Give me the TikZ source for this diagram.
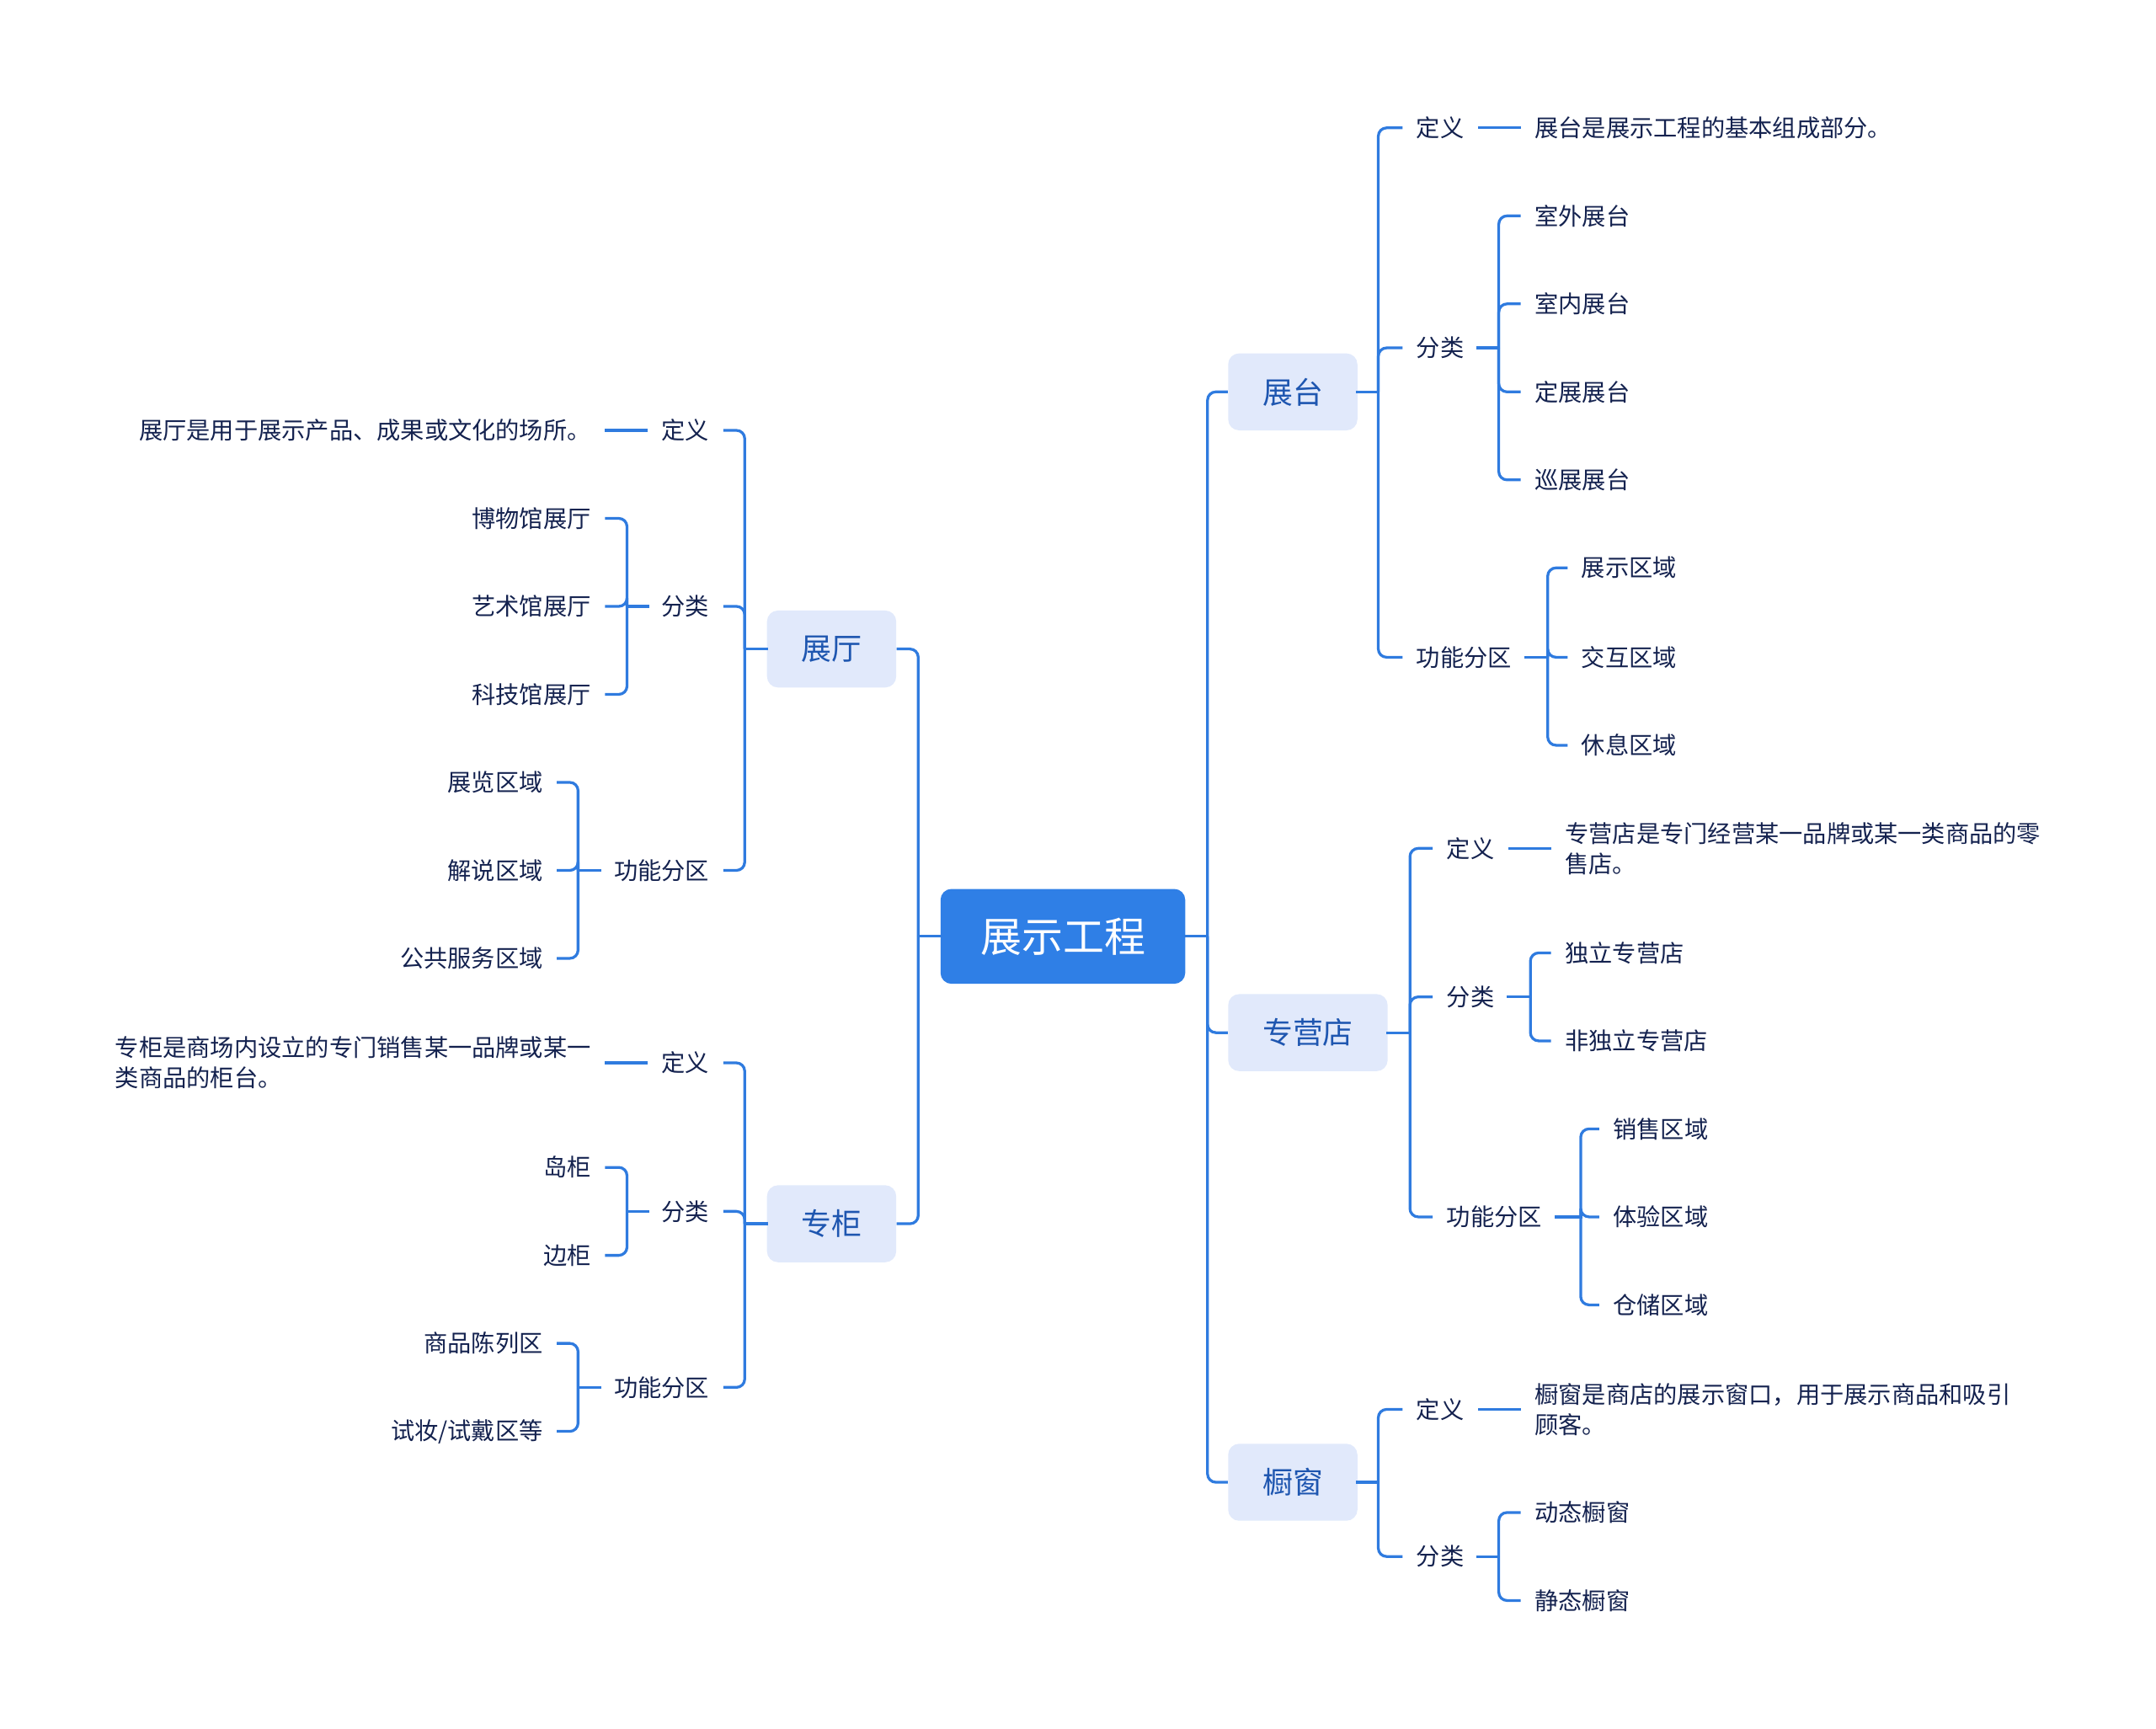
\documentclass[tikz,border=0pt]{standalone}
\usepackage{fontspec}
\setmainfont{Noto Sans CJK SC}
\usetikzlibrary{shapes,arrows}

\definecolor{rootblue}{HTML}{2F7FE6}
\definecolor{linkblue}{HTML}{2F7BDF}
\definecolor{topicbg}{HTML}{E1E9FB}
\definecolor{topictext}{HTML}{1E56B0}
\definecolor{leaftext}{HTML}{14224F}

\begin{document}
\begin{tikzpicture}[x=1pt, y=-1pt,
  root/.style={fill=rootblue, text=white, rounded corners=8pt, minimum width=178pt, minimum height=69pt, font=\fontsize{30}{36}\selectfont},
  topic/.style={fill=topicbg, text=topictext, rounded corners=8pt, minimum height=56pt, inner xsep=25pt, font=\fontsize{22}{26}\selectfont},
  leaf/.style={text=leaftext, inner xsep=10pt, inner ysep=4pt, align=left, font=\fontsize{17.3}{22}\selectfont},
  link/.style={draw=linkblue, line width=2pt, rounded corners=6pt},
  stub/.style={draw=linkblue, line width=2pt, line cap=rect}]

\useasboundingbox (0,0) rectangle (1568,1257);

% centre
\node[root] (main) at (773,681) {展示工程};

\node[topic, anchor=west] (tai) at (893,285) {展台};
\node[topic, anchor=west] (dian) at (893,751) {专营店};
\node[topic, anchor=west] (chuang) at (893,1078) {橱窗};
\node[topic, anchor=east] (ting) at (652,472) {展厅};
\node[topic, anchor=east] (gui) at (652,890) {专柜};

\draw[stub] (main.east) -- ++(16,0) coordinate (main-r);
\draw[link] (main-r) |- (tai.west);
\draw[link] (main-r) |- (dian.west);
\draw[link] (main-r) |- (chuang.west);
\draw[stub] (main.west) -- ++(-16,0) coordinate (main-l);
\draw[link] (main-l) |- (ting.east);
\draw[link] (main-l) |- (gui.east);

% zhantai
\node[leaf, anchor=west] (tai-def) at (1020,93) {定义};
\node[leaf, anchor=west] (tai-fl) at (1020,253) {分类};
\node[leaf, anchor=west] (tai-gn) at (1020,478) {功能分区};
\node[leaf, anchor=west] (tai-def-t) at (1106,93) {展台是展示工程的基本组成部分。};
\node[leaf, anchor=west] (tai-fl-1) at (1106,157) {室外展台};
\node[leaf, anchor=west] (tai-fl-2) at (1106,221) {室内展台};
\node[leaf, anchor=west] (tai-fl-3) at (1106,285) {定展展台};
\node[leaf, anchor=west] (tai-fl-4) at (1106,349) {巡展展台};
\node[leaf, anchor=west] (tai-gn-1) at (1140,413) {展示区域};
\node[leaf, anchor=west] (tai-gn-2) at (1140,478) {交互区域};
\node[leaf, anchor=west] (tai-gn-3) at (1140,542) {休息区域};

\draw[stub] (tai.east) -- ++(15,0) coordinate (tai-j);
\draw[link] (tai-j) |- (tai-def.west);
\draw[link] (tai-j) |- (tai-fl.west);
\draw[link] (tai-j) |- (tai-gn.west);
\draw[link] (tai-def.east) -- (tai-def-t.west);
\draw[stub] (tai-fl.east) -- ++(15,0) coordinate (tai-fl-j);
\draw[link] (tai-fl-j) |- (tai-fl-1.west);
\draw[link] (tai-fl-j) |- (tai-fl-2.west);
\draw[link] (tai-fl-j) |- (tai-fl-3.west);
\draw[link] (tai-fl-j) |- (tai-fl-4.west);
\draw[stub] (tai-gn.east) -- ++(16,0) coordinate (tai-gn-j);
\draw[link] (tai-gn-j) |- (tai-gn-1.west);
\draw[link] (tai-gn-j) |- (tai-gn-2.west);
\draw[link] (tai-gn-j) |- (tai-gn-3.west);

% zhuanyingdian
\node[leaf, anchor=west] (dian-def) at (1042,617) {定义};
\node[leaf, anchor=west] (dian-fl) at (1042,725) {分类};
\node[leaf, anchor=west] (dian-gn) at (1042,885) {功能分区};
\node[leaf, anchor=west] (dian-def-t) at (1128,617) {专营店是专门经营某一品牌或某一类商品的零\\售店。};
\node[leaf, anchor=west] (dian-fl-1) at (1128,693) {独立专营店};
\node[leaf, anchor=west] (dian-fl-2) at (1128,757) {非独立专营店};
\node[leaf, anchor=west] (dian-gn-1) at (1163,821) {销售区域};
\node[leaf, anchor=west] (dian-gn-2) at (1163,885) {体验区域};
\node[leaf, anchor=west] (dian-gn-3) at (1163,949) {仓储区域};

\draw[stub] (dian.east) -- ++(16,0) coordinate (dian-j);
\draw[link] (dian-j) |- (dian-def.west);
\draw[link] (dian-j) |- (dian-fl.west);
\draw[link] (dian-j) |- (dian-gn.west);
\draw[link] (dian-def.east) -- (dian-def-t.west);
\draw[stub] (dian-fl.east) -- ++(16,0) coordinate (dian-fl-j);
\draw[link] (dian-fl-j) |- (dian-fl-1.west);
\draw[link] (dian-fl-j) |- (dian-fl-2.west);
\draw[stub] (dian-gn.east) -- ++(18,0) coordinate (dian-gn-j);
\draw[link] (dian-gn-j) |- (dian-gn-1.west);
\draw[link] (dian-gn-j) |- (dian-gn-2.west);
\draw[link] (dian-gn-j) |- (dian-gn-3.west);

% chuchuang
\node[leaf, anchor=west] (chuang-def) at (1020,1025) {定义};
\node[leaf, anchor=west] (chuang-fl) at (1020,1132) {分类};
\node[leaf, anchor=west] (chuang-def-t) at (1106,1025) {橱窗是商店的展示窗口，用于展示商品和吸引\\顾客。};
\node[leaf, anchor=west] (chuang-fl-1) at (1106,1100) {动态橱窗};
\node[leaf, anchor=west] (chuang-fl-2) at (1106,1164) {静态橱窗};

\draw[stub] (chuang.east) -- ++(15,0) coordinate (chuang-j);
\draw[link] (chuang-j) |- (chuang-def.west);
\draw[link] (chuang-j) |- (chuang-fl.west);
\draw[link] (chuang-def.east) -- (chuang-def-t.west);
\draw[stub] (chuang-fl.east) -- ++(15,0) coordinate (chuang-fl-j);
\draw[link] (chuang-fl-j) |- (chuang-fl-1.west);
\draw[link] (chuang-fl-j) |- (chuang-fl-2.west);

% zhanting
\node[leaf, anchor=east] (ting-def) at (526,313) {定义};
\node[leaf, anchor=east] (ting-fl) at (526,441) {分类};
\node[leaf, anchor=east] (ting-gn) at (526,633) {功能分区};
\node[leaf, anchor=east] (ting-def-t) at (440,313) {展厅是用于展示产品、成果或文化的场所。};
\node[leaf, anchor=east] (ting-fl-1) at (440,377) {博物馆展厅};
\node[leaf, anchor=east] (ting-fl-2) at (440,441) {艺术馆展厅};
\node[leaf, anchor=east] (ting-fl-3) at (440,505) {科技馆展厅};
\node[leaf, anchor=east] (ting-gn-1) at (405,569) {展览区域};
\node[leaf, anchor=east] (ting-gn-2) at (405,633) {解说区域};
\node[leaf, anchor=east] (ting-gn-3) at (405,697) {公共服务区域};

\draw[stub] (ting.west) -- ++(-16,0) coordinate (ting-j);
\draw[link] (ting-j) |- (ting-def.east);
\draw[link] (ting-j) |- (ting-fl.east);
\draw[link] (ting-j) |- (ting-gn.east);
\draw[link] (ting-def.west) -- (ting-def-t.east);
\draw[stub] (ting-fl.west) -- ++(-15,0) coordinate (ting-fl-j);
\draw[link] (ting-fl-j) |- (ting-fl-1.east);
\draw[link] (ting-fl-j) |- (ting-fl-2.east);
\draw[link] (ting-fl-j) |- (ting-fl-3.east);
\draw[stub] (ting-gn.west) -- ++(-16,0) coordinate (ting-gn-j);
\draw[link] (ting-gn-j) |- (ting-gn-1.east);
\draw[link] (ting-gn-j) |- (ting-gn-2.east);
\draw[link] (ting-gn-j) |- (ting-gn-3.east);

% zhuangui
\node[leaf, anchor=east] (gui-def) at (526,773) {定义};
\node[leaf, anchor=east] (gui-fl) at (526,881) {分类};
\node[leaf, anchor=east] (gui-gn) at (526,1009) {功能分区};
\node[leaf, anchor=east] (gui-def-t) at (440,773) {专柜是商场内设立的专门销售某一品牌或某一\\类商品的柜台。};
\node[leaf, anchor=east] (gui-fl-1) at (440,849) {岛柜};
\node[leaf, anchor=east] (gui-fl-2) at (440,913) {边柜};
\node[leaf, anchor=east] (gui-gn-1) at (405,977) {商品陈列区};
\node[leaf, anchor=east] (gui-gn-2) at (405,1041) {试妆/试戴区等};

\draw[stub] (gui.west) -- ++(-16,0) coordinate (gui-j);
\draw[link] (gui-j) |- (gui-def.east);
\draw[link] (gui-j) |- (gui-fl.east);
\draw[link] (gui-j) |- (gui-gn.east);
\draw[link] (gui-def.west) -- (gui-def-t.east);
\draw[stub] (gui-fl.west) -- ++(-15,0) coordinate (gui-fl-j);
\draw[link] (gui-fl-j) |- (gui-fl-1.east);
\draw[link] (gui-fl-j) |- (gui-fl-2.east);
\draw[stub] (gui-gn.west) -- ++(-16,0) coordinate (gui-gn-j);
\draw[link] (gui-gn-j) |- (gui-gn-1.east);
\draw[link] (gui-gn-j) |- (gui-gn-2.east);

\end{tikzpicture}
\end{document}
